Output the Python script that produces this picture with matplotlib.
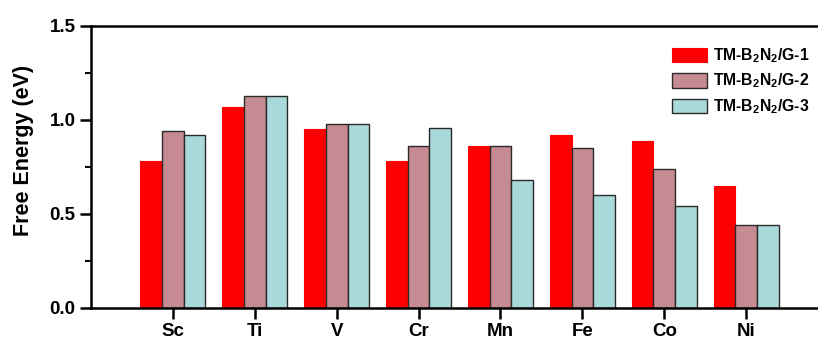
import matplotlib
matplotlib.use("Agg")
import matplotlib.pyplot as plt
import numpy as np

plt.rcParams['font.family'] = ['Liberation Sans', 'DejaVu Sans']
plt.rcParams['font.weight'] = 'bold'
plt.rcParams['mathtext.fontset'] = 'custom'
plt.rcParams['mathtext.rm'] = 'Liberation Sans:bold'
plt.rcParams['mathtext.bf'] = 'Liberation Sans:bold'

# data
metals = ['Sc', 'Ti', 'V', 'Cr', 'Mn', 'Fe', 'Co', 'Ni']
g1 = [0.78, 1.07, 0.95, 0.78, 0.86, 0.92, 0.89, 0.65]
g2 = [0.94, 1.13, 0.98, 0.86, 0.86, 0.85, 0.74, 0.44]
g3 = [0.92, 1.13, 0.98, 0.96, 0.68, 0.60, 0.54, 0.44]
labels = [r'TM-B$_\mathbf{2}$N$_\mathbf{2}$/G-1',
          r'TM-B$_\mathbf{2}$N$_\mathbf{2}$/G-2',
          r'TM-B$_\mathbf{2}$N$_\mathbf{2}$/G-3']

fig = plt.figure(figsize=(8.18, 3.4), dpi=100)
ax = fig.add_axes([91/818, 32/340, 727/818, 282/340])

x = np.arange(1, len(metals) + 1)
w = 0.265
ax.bar(x - w, g1, w, color='#FF0000', edgecolor='#FF0000', linewidth=0.8, label=labels[0])
ax.bar(x, g2, w, color='#C58A92', edgecolor='#2a2a2a', linewidth=1.0, label=labels[1])
ax.bar(x + w, g3, w, color='#A9D9DB', edgecolor='#2a2a2a', linewidth=1.0, label=labels[2])

ax.set_xlim(0, 8.877)
ax.set_ylim(0, 1.5)
ax.set_xticks(x)
ax.set_xticklabels(metals, fontsize=13.5, fontweight='bold')
ax.set_yticks([0, 0.5, 1.0, 1.5])
ax.set_yticklabels(['0.0', '0.5', '1.0', '1.5'], fontsize=13.5, fontweight='bold')
ax.set_yticks([0.25, 0.75, 1.25], minor=True)
ax.tick_params(axis='both', which='major', direction='out', length=8, width=1.8, pad=3)
ax.tick_params(axis='y', which='minor', direction='out', length=4.5, width=1.5)
ax.set_ylabel('Free Energy (eV)', fontsize=15.5, fontweight='bold')
ax.yaxis.set_label_coords(-0.078, 0.557)

for s in ['left', 'bottom', 'top']:
    ax.spines[s].set_linewidth(1.8)
ax.spines['right'].set_visible(False)

ax.legend(loc='upper left', bbox_to_anchor=(672/818, 1 - 46/340),
          bbox_transform=fig.transFigure, frameon=False, fontsize=11.3,
          handlelength=2.23, handleheight=1.02, labelspacing=0.45,
          handletextpad=0.38, borderpad=0, borderaxespad=0)

fig.savefig('out.png', dpi=100)
